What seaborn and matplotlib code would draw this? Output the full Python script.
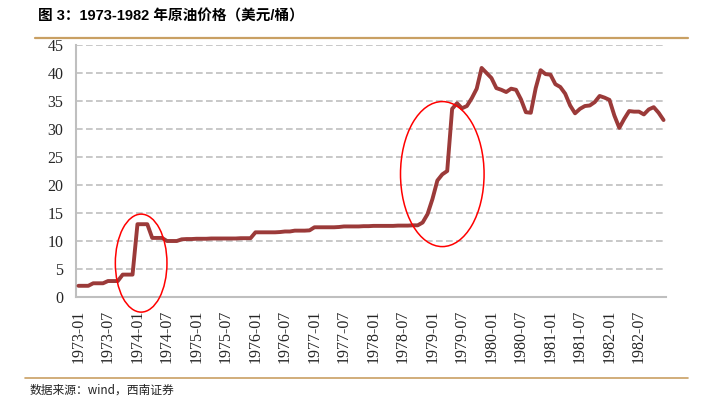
import numpy as np
import pandas as pd
import seaborn as sns
import matplotlib
matplotlib.use("Agg")
import matplotlib.pyplot as plt
from matplotlib.patches import Ellipse
from matplotlib.lines import Line2D

# ---- data (monthly, 1973-01 .. 1982-12) ----
years = list(range(1973, 1983))
months = [f"{y}-{m:02d}" for y in years for m in range(1, 13)]

price = [
    # 1973
    2.0, 2.0, 2.0, 2.45, 2.45, 2.45, 2.85, 2.85, 2.85, 4.0, 4.0, 4.0,
    # 1974
    13.0, 13.0, 13.0, 10.55, 10.55, 10.55, 10.0, 10.0, 10.0, 10.3, 10.35, 10.35,
    # 1975
    10.4, 10.4, 10.4, 10.45, 10.45, 10.45, 10.45, 10.45, 10.45, 10.5, 10.5, 10.5,
    # 1976
    11.55, 11.55, 11.55, 11.55, 11.55, 11.6, 11.7, 11.7, 11.85, 11.85, 11.85, 11.9,
    # 1977
    12.45, 12.45, 12.45, 12.45, 12.45, 12.5, 12.6, 12.6, 12.6, 12.6, 12.65, 12.65,
    # 1978
    12.7, 12.7, 12.7, 12.7, 12.7, 12.75, 12.75, 12.75, 12.8, 12.8, 13.3, 14.8,
    # 1979
    17.5, 20.8, 21.9, 22.5, 33.6, 34.6, 33.7, 34.1, 35.5, 37.2, 40.9, 40.0,
    # 1980
    39.1, 37.3, 37.0, 36.6, 37.2, 37.0, 35.3, 33.0, 32.9, 37.3, 40.5, 39.8,
    # 1981
    39.7, 38.0, 37.5, 36.3, 34.2, 32.8, 33.6, 34.1, 34.2, 34.8, 35.9, 35.6,
    # 1982
    35.2, 32.4, 30.2, 31.8, 33.2, 33.1, 33.1, 32.6, 33.5, 33.9, 32.9, 31.6,
]

y_ticks = [0, 5, 10, 15, 20, 25, 30, 35, 40, 45]
x_label_step = 6

# highlighted periods (start, end on month axis, low value, high value)
highlights = [(7.5, 18.0, -2.7, 14.8), (65.5, 82.5, 9.0, 34.9)]

df = pd.DataFrame({"idx": np.arange(len(months)), "month": months, "price": price})

sns.set_theme(style="white")
plt.rcParams["font.family"] = ["Liberation Serif", "Noto Sans CJK SC", "DejaVu Sans"]

fig = plt.figure(figsize=(7.05, 3.96), dpi=100)
ax = fig.add_axes([76 / 705, 1 - 297 / 396, 590 / 705, 252 / 396])

sns.lineplot(data=df, x="idx", y="price", ax=ax, color="#9B3A39",
             linewidth=2.8, zorder=3)

n = len(months)
ax.set_xlim(-0.5, n - 0.5)
ax.set_ylim(0, 45)

ax.set_yticks(y_ticks)
ax.set_yticklabels([str(v) for v in y_ticks], fontsize=11.5)
ax.tick_params(axis="y", length=0, pad=9)

major = np.arange(-0.5, n, x_label_step)
ax.set_xticks(major)
ax.set_xticklabels([""] * len(major))
ax.tick_params(axis="x", which="major", direction="in", length=4,
               width=1, color="#BFBFBF")
label_pos = list(range(0, n - x_label_step + 1, x_label_step))
ax.set_xticks(label_pos, minor=True)
ax.set_xticklabels([months[i] for i in label_pos], minor=True,
                   rotation=90, fontsize=11.5)
ax.tick_params(axis="x", which="minor", length=0, pad=9)

ax.yaxis.grid(True, linestyle=(0, (4, 2)), color="#BFBFBF", linewidth=1.2)
ax.xaxis.grid(False)
for s in ["top", "right"]:
    ax.spines[s].set_visible(False)
for s in ["left", "bottom"]:
    ax.spines[s].set_color("#BFBFBF")
    ax.spines[s].set_linewidth(1.5)
ax.set_xlabel("")
ax.set_ylabel("")

for (a, b, lo, hi) in highlights:
    e = Ellipse(((a + b) / 2, (lo + hi) / 2), width=b - a, height=hi - lo,
                fill=False, edgecolor="#FF0000", linewidth=1.1, clip_on=False,
                zorder=5)
    ax.add_patch(e)

# title, rules, footer
fig.text(38 / 705, 1 - 16 / 396, "图 3：1973-1982 年原油价格（美元/桶）",
         family=["Liberation Sans", "Noto Sans CJK SC"], fontweight="bold",
         fontsize=10.5, va="center", ha="left", color="black")
fig.add_artist(Line2D([35 / 705, 688 / 705], [1 - 37.5 / 396, 1 - 37.5 / 396],
                      color="#C9A063", linewidth=1.6))
fig.add_artist(Line2D([25 / 705, 688 / 705], [1 - 378 / 396, 1 - 378 / 396],
                      color="#C9A063", linewidth=1.2))
fig.text(30 / 705, 1 - 390 / 396, "数据来源：wind，西南证券",
         family=["Noto Sans CJK SC", "DejaVu Sans"], style="italic",
         fontsize=8.5, va="center", ha="left", color="#222222")

fig.savefig("out.png", dpi=100)
